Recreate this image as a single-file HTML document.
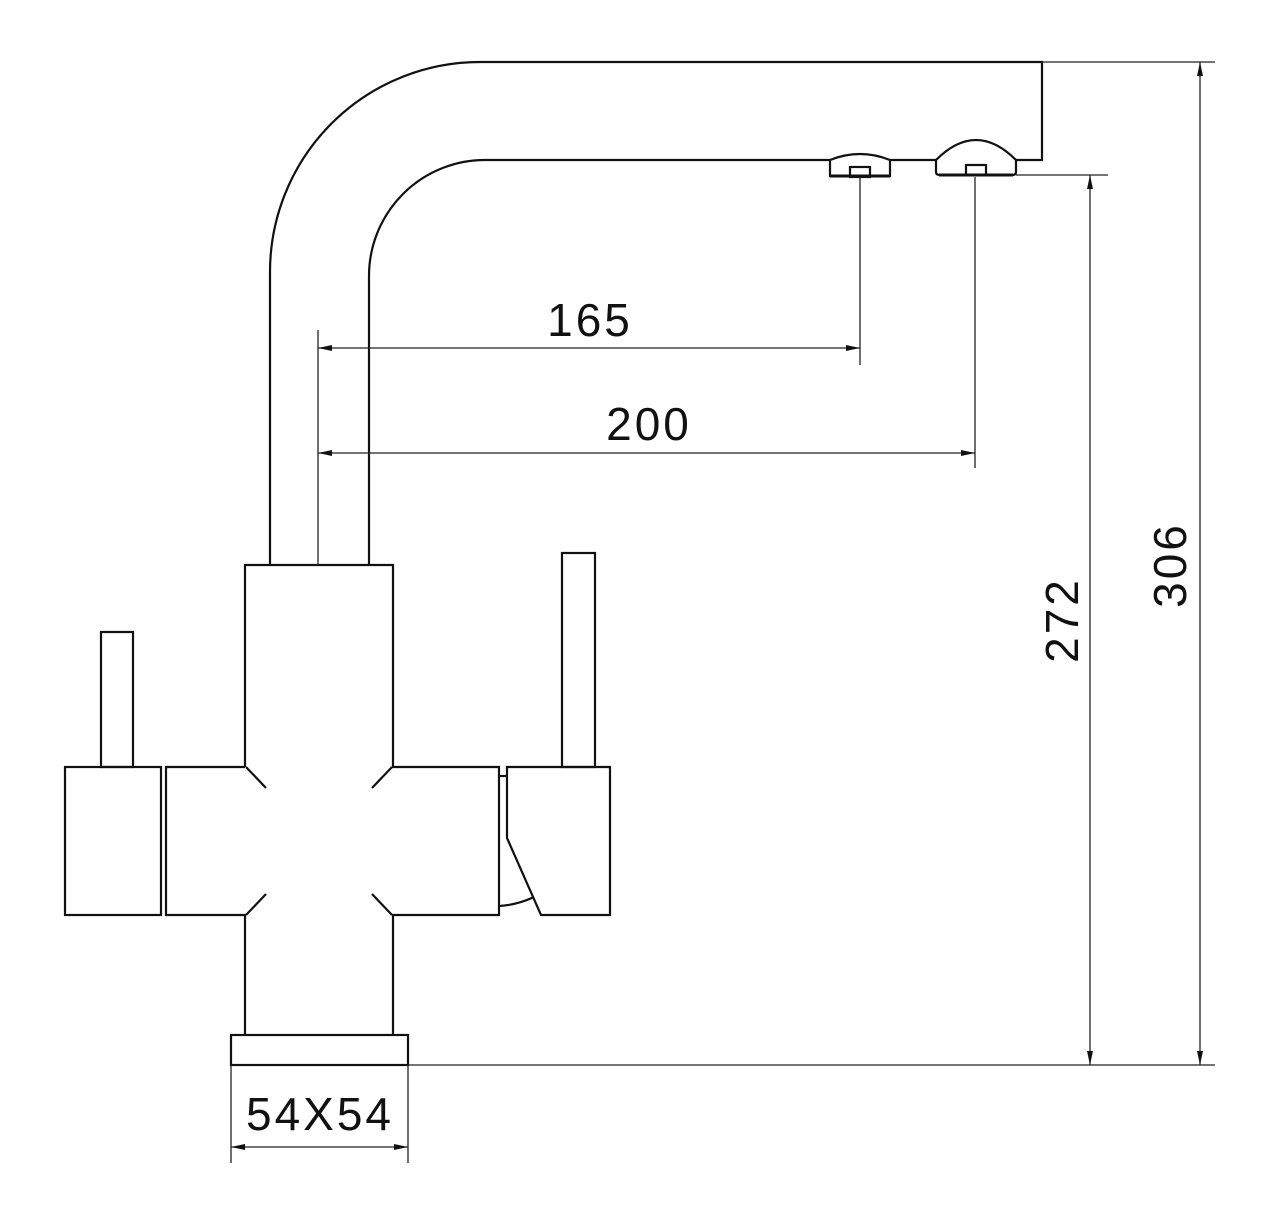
<!DOCTYPE html>
<html><head><meta charset="utf-8"><style>html,body{margin:0;padding:0;background:#fff}svg{display:block}</style></head>
<body>
<svg width="1280" height="1225" viewBox="0 0 1280 1225" xmlns="http://www.w3.org/2000/svg">
<g fill="none" stroke="#111" stroke-width="2.2" stroke-linejoin="miter">
<!-- spout -->
<path d="M270 565 V272 A210 210 0 0 1 480 62 H1042 V160 H1016"/>
<path d="M369 565 V276 A116 116 0 0 1 485 160 H830"/>
<path d="M890 160 H936"/>
<!-- aerator 1 -->
<path d="M830 160 Q860 148 890 160 V176 H830 Z"/>
<path d="M830 176 H890" stroke-width="3"/>
<rect x="850" y="167" width="20" height="10"/>
<!-- aerator 2 -->
<path d="M936 160 Q976 120 1016 160 V172 Q1016 175 1012 175 H940 Q936 175 936 172 Z"/>
<path d="M939 175 H1013" stroke-width="3"/>
<rect x="966" y="165" width="20" height="10"/>
<!-- body -->
<path d="M245 767 V565 H393 V767 H499 V915 H393 V1035"/>
<path d="M245 1035 V915 H166 V767 H245"/>
<path d="M246 767 L266 788 M392 767 L372 788 M246 915 L266 894 M392 915 L372 894"/>
<rect x="65" y="767" width="96" height="148"/>
<rect x="101" y="632" width="32" height="135"/>
<rect x="562" y="553" width="33" height="214"/>
<path d="M507 767 H610 V915 H541 L507 838 Z"/>
<path d="M499 776 H507"/>
<path d="M499 906 Q517 905 534 897"/>
<rect x="231" y="1035" width="177" height="30"/>
</g>
<g fill="none" stroke="#222" stroke-width="1.3">
<path d="M408 1065 H1215 M1042 62 H1215 M1016 175 H1108"/>
<path d="M318 330 V565 M860 177 V365 M975 177 V468"/>
<path d="M318 348 H860 M318 453 H975"/>
<path d="M1090 175 V1065 M1200 62 V1065"/>
<path d="M231 1065 V1163 M408 1065 V1163 M231 1147 H408"/>
</g>
<g fill="#111">
<path d="M318 348 l14 -3 v6 z M860 348 l-14 -3 v6 z"/>
<path d="M318 453 l14 -3 v6 z M975 453 l-14 -3 v6 z"/>
<path d="M1090 175 l-3 14 h6 z M1090 1065 l-3 -14 h6 z"/>
<path d="M1200 62 l-3 14 h6 z M1200 1065 l-3 -14 h6 z"/>
<path d="M231 1147 l14 -3 v6 z M408 1147 l-14 -3 v6 z"/>
</g>
<g font-family="Liberation Sans, sans-serif" font-size="46" fill="#111" text-anchor="middle" letter-spacing="3">
<text x="590" y="336">165</text>
<text x="649" y="440">200</text>
<text x="320" y="1130">54X54</text>
<text transform="translate(1078 620) rotate(-90)">272</text>
<text transform="translate(1186 565) rotate(-90)">306</text>
</g>
</svg>
</body></html>
